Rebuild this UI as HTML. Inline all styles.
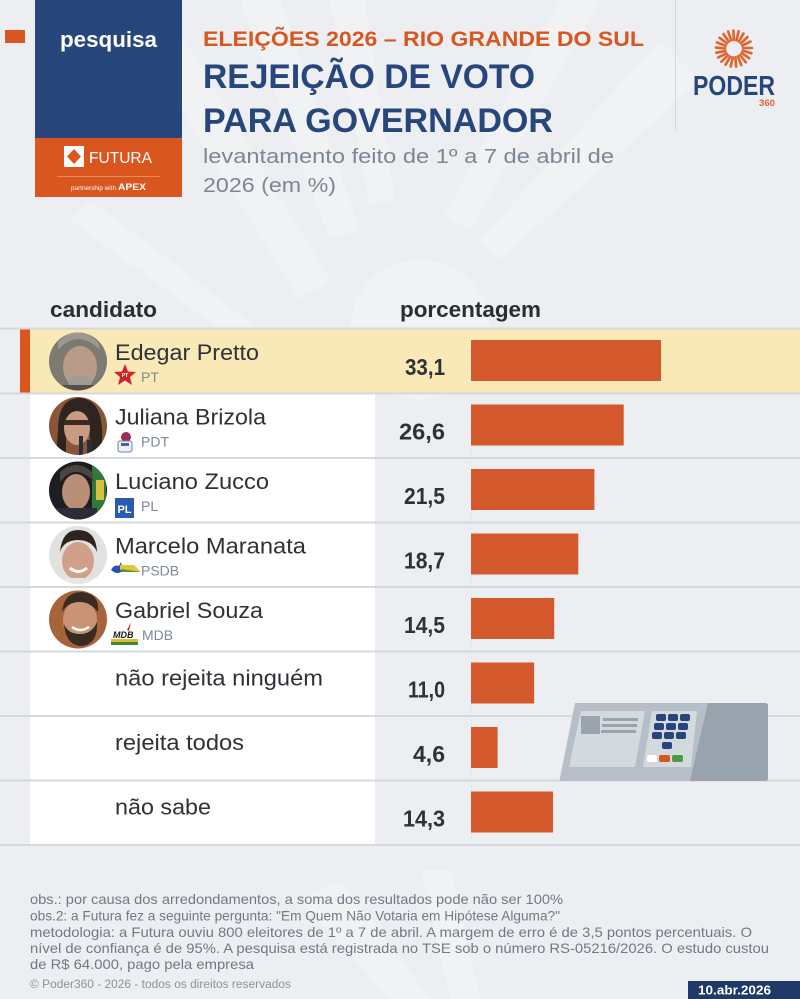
<!DOCTYPE html>
<html><head><meta charset="utf-8"><style>
html,body{margin:0;padding:0;background:#eceef1;}
svg{display:block;font-family:"Liberation Sans",sans-serif;}
</style></head><body>
<svg width="800" height="999" viewBox="0 0 800 999" xmlns="http://www.w3.org/2000/svg">
<defs>
<clipPath id="c1"><circle cx="78" cy="361.5" r="29"/></clipPath>
<clipPath id="c2"><circle cx="78" cy="426" r="29"/></clipPath>
<clipPath id="c3"><circle cx="78" cy="490.5" r="29"/></clipPath>
<clipPath id="c4"><circle cx="78" cy="555" r="29"/></clipPath>
<clipPath id="c5"><circle cx="78" cy="619.5" r="29"/></clipPath>
</defs>
<rect width="800" height="999" fill="#eceef1"/>
<!-- watermark rays -->
<g fill="#f1f2f4">
<polygon points="120,10 160,0 330,280 300,300"/>
<polygon points="240,0 280,0 360,230 330,240"/>
<polygon points="330,0 365,0 395,200 370,205"/>
<polygon points="560,0 600,0 470,230 445,215"/>
<polygon points="660,40 700,80 500,260 480,240"/>
<polygon points="70,220 90,200 300,360 290,380"/>
<polygon points="300,900 340,880 430,999 390,999"/>
<polygon points="420,870 450,870 480,999 450,999"/>
<circle cx="420" cy="330" r="70"/>
</g>
<!-- left small orange square -->
<rect x="5" y="30" width="20" height="13" fill="#d9561f"/>
<!-- blue / orange box -->
<rect x="35" y="0" width="147" height="138" fill="#27467b"/>
<rect x="35" y="138" width="147" height="59" fill="#d9561f"/>
<text x="60" y="47" font-size="22" font-weight="bold" fill="#ffffff" textLength="97" lengthAdjust="spacingAndGlyphs">pesquisa</text>
<rect x="64" y="146" width="20" height="21" fill="#ffffff"/>
<polygon points="74,149 81,156.5 74,164 67,156.5" fill="#d9561f"/>
<text x="89" y="163" font-size="16" fill="#ffffff" textLength="63" lengthAdjust="spacingAndGlyphs">FUTURA</text>
<rect x="57" y="176" width="103" height="1" fill="#e98a60"/>
<text x="71" y="190" font-size="6" fill="#ffffff" textLength="45" lengthAdjust="spacingAndGlyphs">partnership with</text>
<text x="118" y="190" font-size="9" font-weight="bold" fill="#ffffff" textLength="28" lengthAdjust="spacingAndGlyphs">APEX</text>
<!-- titles -->
<text x="203" y="46" font-size="21" font-weight="bold" fill="#d9561f" textLength="441" lengthAdjust="spacingAndGlyphs">ELEIÇÕES 2026 – RIO GRANDE DO SUL</text>
<text x="203" y="88" font-size="34" font-weight="bold" fill="#27467b" textLength="332" lengthAdjust="spacingAndGlyphs">REJEIÇÃO DE VOTO</text>
<text x="203" y="132" font-size="34" font-weight="bold" fill="#27467b" textLength="350" lengthAdjust="spacingAndGlyphs">PARA GOVERNADOR</text>
<text x="203" y="163" font-size="20" fill="#7b8794" textLength="411" lengthAdjust="spacingAndGlyphs">levantamento feito de 1º a 7 de abril de</text>
<text x="203" y="192" font-size="20" fill="#7b8794" textLength="133" lengthAdjust="spacingAndGlyphs">2026 (em %)</text>
<!-- divider -->
<rect x="675" y="0" width="1" height="130" fill="#d3d7dc"/>
<!-- Poder360 logo -->
<g stroke="#e0642c" stroke-width="2.6" stroke-linecap="round">
<line x1="743" y1="48" x2="752" y2="48"/><line x1="742.6" y1="50.6" x2="751.4" y2="53.3"/>
<line x1="741.7" y1="53" x2="749.2" y2="58.2"/><line x1="740" y1="55" x2="745.8" y2="62.3"/>
<line x1="737.9" y1="56.4" x2="741.3" y2="65.1"/><line x1="735.4" y1="57.3" x2="736.1" y2="66.6"/>
<line x1="732.8" y1="57.4" x2="730.7" y2="66.5"/><line x1="730.3" y1="56.7" x2="725.6" y2="64.7"/>
<line x1="728.1" y1="55.3" x2="721.3" y2="61.6"/><line x1="726.4" y1="53.4" x2="718.1" y2="57.5"/>
<line x1="725.4" y1="51" x2="716.3" y2="52.7"/><line x1="725.1" y1="48.4" x2="716" y2="47.6"/>
<line x1="725.6" y1="45.8" x2="717" y2="42.4"/><line x1="726.9" y1="43.4" x2="719.6" y2="37.8"/>
<line x1="728.8" y1="41.6" x2="723.4" y2="34"/><line x1="731.2" y1="40.4" x2="728.2" y2="31.5"/>
<line x1="733.8" y1="40" x2="733.4" y2="30.5"/><line x1="736.4" y1="40.4" x2="738.6" y2="31.2"/>
<line x1="738.8" y1="41.5" x2="743.5" y2="33.5"/><line x1="740.9" y1="43.3" x2="747.6" y2="37"/>
<line x1="742.3" y1="45.6" x2="750.5" y2="41.6"/>
</g>
<text x="693" y="95" font-size="28" font-weight="bold" fill="#27467b" textLength="82" lengthAdjust="spacingAndGlyphs">PODER</text>
<text x="759" y="106" font-size="9" font-weight="bold" fill="#e0642c" textLength="16" lengthAdjust="spacingAndGlyphs">360</text>
<!-- table header -->
<text x="50" y="317" font-size="22" font-weight="bold" fill="#2b2d31" textLength="107" lengthAdjust="spacingAndGlyphs">candidato</text>
<text x="400" y="317" font-size="22" font-weight="bold" fill="#2b2d31" textLength="141" lengthAdjust="spacingAndGlyphs">porcentagem</text>
<!-- row backgrounds -->
<rect x="30" y="393.5" width="345" height="451.5" fill="#ffffff"/>
<rect x="20" y="329" width="780" height="64.5" fill="#f9e9b6"/>
<rect x="20" y="329" width="10" height="64.5" fill="#d9561f"/>
<rect x="471" y="329" width="1" height="516" fill="#e4e6ea" opacity="0.6"/>
<!-- separators -->
<g fill="#d5d8dc">
<rect x="0" y="327.5" width="800" height="2"/>
<rect x="0" y="392.5" width="800" height="2"/>
<rect x="0" y="457" width="800" height="2"/>
<rect x="0" y="521.5" width="800" height="2"/>
<rect x="0" y="586" width="800" height="2"/>
<rect x="0" y="650.5" width="800" height="2"/>
<rect x="0" y="715" width="800" height="2"/>
<rect x="0" y="779.5" width="800" height="2"/>
<rect x="0" y="844" width="800" height="2"/>
</g>
<!-- bars -->
<g fill="#d3582b">
<rect x="471" y="340" width="190" height="41"/>
<rect x="471" y="404.5" width="152.7" height="41"/>
<rect x="471" y="469" width="123.4" height="41"/>
<rect x="471" y="533.5" width="107.3" height="41"/>
<rect x="471" y="598" width="83.2" height="41"/>
<rect x="471" y="662.5" width="63.1" height="41"/>
<rect x="471" y="727" width="26.6" height="41"/>
<rect x="471" y="791.5" width="82" height="41"/>
</g>
<!-- values -->
<g font-size="23" font-weight="bold" fill="#2f3136" text-anchor="end">
<text x="445" y="375" textLength="40" lengthAdjust="spacingAndGlyphs">33,1</text>
<text x="445" y="439.5" textLength="46" lengthAdjust="spacingAndGlyphs">26,6</text>
<text x="445" y="504" textLength="41" lengthAdjust="spacingAndGlyphs">21,5</text>
<text x="445" y="568.5" textLength="41" lengthAdjust="spacingAndGlyphs">18,7</text>
<text x="445" y="633" textLength="41" lengthAdjust="spacingAndGlyphs">14,5</text>
<text x="445" y="697.5" textLength="37" lengthAdjust="spacingAndGlyphs">11,0</text>
<text x="445" y="762" textLength="32" lengthAdjust="spacingAndGlyphs">4,6</text>
<text x="445" y="826.5" textLength="42" lengthAdjust="spacingAndGlyphs">14,3</text>
</g>
<!-- avatars -->
<g clip-path="url(#c1)">
<rect x="49" y="332" width="58" height="59" fill="#7d7a72"/>
<ellipse cx="80" cy="367" rx="17" ry="21" fill="#b89c88"/>
<path d="M58,350 Q78,328 100,350 L98,342 Q78,322 58,342 Z" fill="#9a9890"/>
<ellipse cx="80" cy="382" rx="12" ry="6" fill="#a09a96"/>
<rect x="49" y="385" width="58" height="10" fill="#55504a"/>
</g>
<g clip-path="url(#c2)">
<rect x="49" y="396" width="58" height="60" fill="#8a5638"/>
<path d="M58,430 Q58,398 80,398 Q104,400 102,440 L102,456 L92,456 L88,420 L66,420 L66,456 L56,456 Z" fill="#2e2420"/>
<ellipse cx="77" cy="428" rx="13" ry="17" fill="#c99b82"/>
<rect x="64" y="420" width="26" height="5" fill="#3a2a22"/>
<rect x="79" y="436" width="4" height="20" fill="#2a2e3a"/>
<rect x="87" y="440" width="5" height="16" fill="#2a2e3a"/>
</g>
<g clip-path="url(#c3)">
<rect x="49" y="461" width="58" height="60" fill="#1e1e22"/>
<rect x="92" y="465" width="14" height="50" fill="#2f7a3a"/>
<rect x="96" y="480" width="8" height="20" fill="#d8c040"/>
<ellipse cx="76" cy="492" rx="14" ry="18" fill="#b98e77"/>
<path d="M60,482 Q76,462 94,482 L92,472 Q76,458 60,472 Z" fill="#4a4540"/>
<rect x="55" y="508" width="42" height="14" fill="#2a2c36"/>
</g>
<g clip-path="url(#c4)">
<rect x="49" y="526" width="58" height="60" fill="#e3e1df"/>
<ellipse cx="78" cy="561" rx="16" ry="19" fill="#d0a088"/>
<path d="M60,552 Q62,530 78,530 Q96,530 97,552 Q92,540 78,540 Q64,540 60,552 Z" fill="#2c2420"/>
<path d="M70,568 Q78,575 87,568" stroke="#ffffff" stroke-width="3" fill="none"/>
<rect x="55" y="578" width="46" height="10" fill="#e8e6e4"/>
</g>
<g clip-path="url(#c5)">
<rect x="49" y="590" width="58" height="60" fill="#a7633a"/>
<ellipse cx="80" cy="620" rx="17" ry="20" fill="#c99476"/>
<path d="M62,612 Q64,592 82,592 Q100,594 98,612 Q90,602 80,602 Q68,602 62,612 Z" fill="#3a2a22"/>
<path d="M64,624 Q66,646 82,646 Q98,644 97,622 Q92,634 80,634 Q68,634 64,624 Z" fill="#3a2a22"/>
<path d="M72,627 Q80,633 89,627" stroke="#ffffff" stroke-width="2.5" fill="none"/>
</g>
<!-- names -->
<g font-size="22" fill="#2f3136">
<text x="115" y="360" textLength="144" lengthAdjust="spacingAndGlyphs">Edegar Pretto</text>
<text x="115" y="424.5" textLength="151" lengthAdjust="spacingAndGlyphs">Juliana Brizola</text>
<text x="115" y="489" textLength="154" lengthAdjust="spacingAndGlyphs">Luciano Zucco</text>
<text x="115" y="553.5" textLength="191" lengthAdjust="spacingAndGlyphs">Marcelo Maranata</text>
<text x="115" y="618" textLength="148" lengthAdjust="spacingAndGlyphs">Gabriel Souza</text>
<text x="115" y="685.5" textLength="208" lengthAdjust="spacingAndGlyphs">não rejeita ninguém</text>
<text x="115" y="750" textLength="129" lengthAdjust="spacingAndGlyphs">rejeita todos</text>
<text x="115" y="814.5" textLength="96" lengthAdjust="spacingAndGlyphs">não sabe</text>
</g>
<!-- party labels -->
<g font-size="14" fill="#7d8895">
<text x="141" y="382">PT</text>
<text x="141" y="446.5">PDT</text>
<text x="141" y="511">PL</text>
<text x="141" y="575.5">PSDB</text>
<text x="142" y="640">MDB</text>
</g>
<!-- party icons -->
<polygon points="125,364 128,371.5 136,372 130,377 132,385 125,380.5 118,385 120,377 114,372 122,371.5" fill="#d4212a"/>
<text x="125" y="377" font-size="5" font-weight="bold" fill="#ffffff" text-anchor="middle">PT</text>
<circle cx="126" cy="437" r="5" fill="#9c3050"/>
<rect x="118" y="441" width="14" height="11" rx="2" fill="#eef2f8" stroke="#6a7fb0" stroke-width="1"/>
<rect x="121" y="443" width="8" height="3" fill="#4a62a0"/>
<rect x="115" y="498" width="19" height="20" fill="#2b5bb0"/>
<text x="124.5" y="513" font-size="11" font-weight="bold" fill="#ffffff" text-anchor="middle">PL</text>
<path d="M111,570 Q114,564 119,566 L121,562 L123,570 Q118,576 111,570 Z" fill="#2f4fb0"/>
<path d="M120,565 L134,565 L141,572 L120,570 Z" fill="#e8c43a"/>
<path d="M121,569 L141,572 L121,572 Z" fill="#4a9a3a"/>
<text x="113" y="638" font-size="9" font-weight="bold" font-style="italic" fill="#1a1a1a">MDB</text>
<rect x="111" y="639" width="27" height="3" fill="#e2b830"/>
<rect x="111" y="642" width="27" height="3" fill="#3a8a3a"/>
<path d="M127,630 L131,622 L129,631 Z" fill="#d4212a"/>
<!-- ballot box -->
<path d="M575,703 L765,703 Q768,703 768,706 L768,778 Q768,781 765,781 L562,781 Q559,781 560,778 Z" fill="#b6bec7"/>
<path d="M708,703 L765,703 Q768,703 768,706 L768,778 Q768,781 765,781 L690,781 Z" fill="#98a3ae"/>
<polygon points="581,711 645,711 635,767 569,767" fill="#d4d9de"/>
<rect x="581" y="716" width="19" height="18" fill="#9aa4ae"/>
<g fill="#9aa4ae">
<rect x="603" y="718" width="35" height="3"/>
<rect x="602" y="724" width="35" height="3"/>
<rect x="601" y="730" width="35" height="3"/>
</g>
<polygon points="652,711 697,711 691,767 643,767" fill="#d4d9de"/>
<g fill="#27457a">
<rect x="656" y="714" width="10" height="7" rx="2"/><rect x="668" y="714" width="10" height="7" rx="2"/><rect x="680" y="714" width="10" height="7" rx="2"/>
<rect x="654" y="723" width="10" height="7" rx="2"/><rect x="666" y="723" width="10" height="7" rx="2"/><rect x="678" y="723" width="10" height="7" rx="2"/>
<rect x="652" y="732" width="10" height="7" rx="2"/><rect x="664" y="732" width="10" height="7" rx="2"/><rect x="676" y="732" width="10" height="7" rx="2"/>
<rect x="662" y="742" width="10" height="7" rx="2"/>
</g>
<rect x="647" y="755" width="10" height="7" rx="2" fill="#ffffff"/>
<rect x="659" y="755" width="11" height="7" rx="2" fill="#d9561f"/>
<rect x="672" y="755" width="11" height="7" rx="2" fill="#4a9a4a"/>
<!-- footer -->
<g font-size="14" fill="#6f7a86">
<text x="30" y="904" textLength="533" lengthAdjust="spacingAndGlyphs">obs.: por causa dos arredondamentos, a soma dos resultados pode não ser 100%</text>
<text x="30" y="920.5" textLength="530" lengthAdjust="spacingAndGlyphs">obs.2: a Futura fez a seguinte pergunta: "Em Quem Não Votaria em Hipótese Alguma?"</text>
<text x="30" y="937" textLength="722" lengthAdjust="spacingAndGlyphs">metodologia: a Futura ouviu 800 eleitores de 1º a 7 de abril. A margem de erro é de 3,5 pontos percentuais. O</text>
<text x="30" y="953" textLength="739" lengthAdjust="spacingAndGlyphs">nível de confiança é de 95%. A pesquisa está registrada no TSE sob o número RS-05216/2026. O estudo custou</text>
<text x="30" y="969" textLength="224" lengthAdjust="spacingAndGlyphs">de R$ 64.000, pago pela empresa</text>
</g>
<text x="30" y="988" font-size="11.5" fill="#8a949e" textLength="261" lengthAdjust="spacingAndGlyphs">© Poder360 - 2026 - todos os direitos reservados</text>
<rect x="688" y="981" width="112" height="18" fill="#1f3a66"/>
<text x="698" y="994.5" font-size="13" font-weight="bold" fill="#ffffff" textLength="73" lengthAdjust="spacingAndGlyphs">10.abr.2026</text>
</svg>
</body></html>
